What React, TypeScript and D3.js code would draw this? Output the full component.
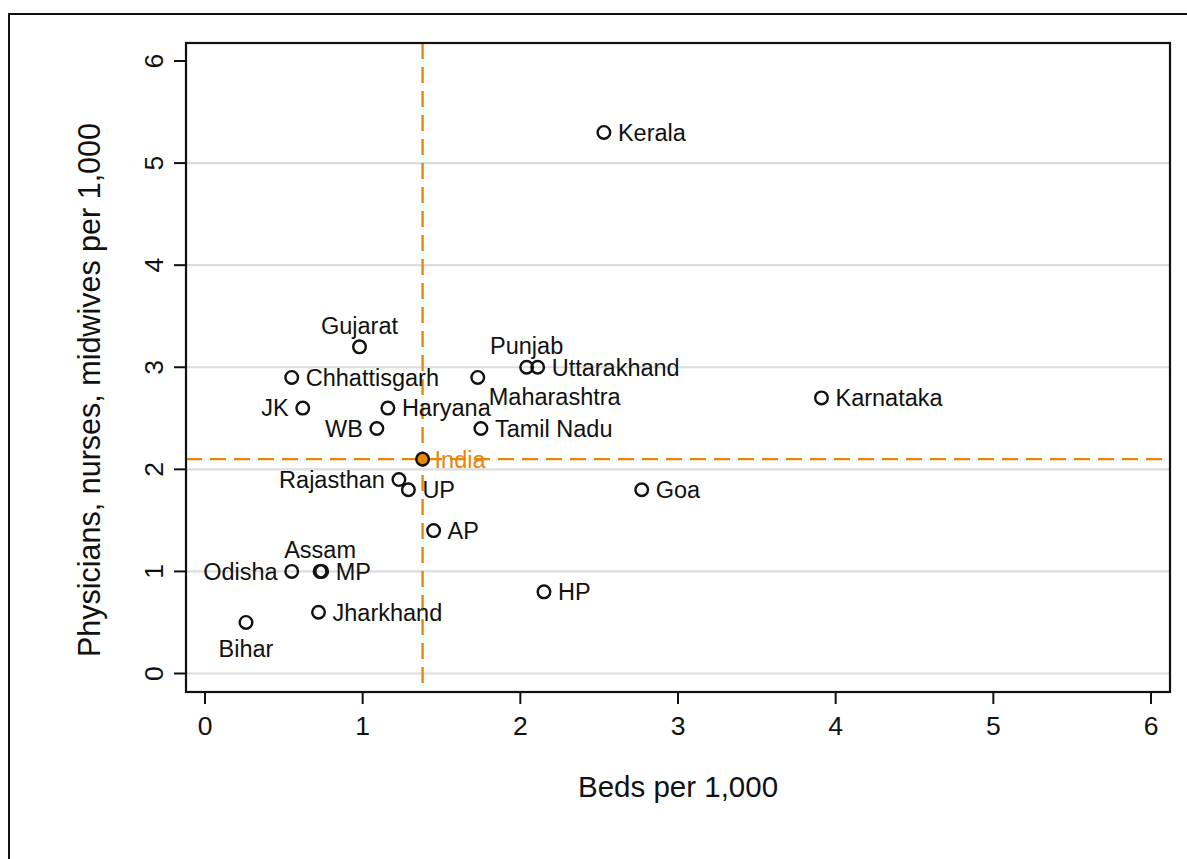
import React, { useEffect } from "react";
import * as d3 from "d3";

const states = [
  "Kerala", "Karnataka", "Gujarat", "Chhattisgarh", "JK", "Haryana", "WB",
  "Maharashtra", "Punjab", "Uttarakhand", "Tamil Nadu", "Rajasthan", "UP",
  "AP", "Goa", "HP", "Odisha", "Assam", "MP", "Jharkhand", "Bihar",
];
const beds = [
  2.53, 3.91, 0.98, 0.55, 0.62, 1.16, 1.09,
  1.73, 2.04, 2.11, 1.75, 1.23, 1.29,
  1.45, 2.77, 2.15, 0.55, 0.73, 0.74, 0.72, 0.26,
];
const workers = [
  5.3, 2.7, 3.2, 2.9, 2.6, 2.6, 2.4,
  2.9, 3.0, 3.0, 2.4, 1.9, 1.8,
  1.4, 1.8, 0.8, 1.0, 1.0, 1.0, 0.6, 0.5,
];
// label clock positions (Stata style)
const labelPos = [
  3, 3, 12, 3, 9, 3, 9,
  4, 12, 3, 3, 9, 3,
  3, 3, 3, 9, 12, 3, 3, 6,
];
const india = { name: "India", beds: 1.38, workers: 2.1 };
const xTicks = [0, 1, 2, 3, 4, 5, 6];
const yTicks = [0, 1, 2, 3, 4, 5, 6];
const gridValues = [0, 1, 2, 3, 4, 5];
const xTitle = "Beds per 1,000";
const yTitle = "Physicians, nurses, midwives per 1,000";

const W = 1187;
const H = 859;
const PL = 186, PR = 1170, PT = 43, PB = 692;
const ORANGE = "#e8860c";
const FONT = "'Liberation Sans', Arial, Helvetica, sans-serif";

export default function App() {
  useEffect(() => {
    document.body.style.margin = "0";
  }, []);

  const x = d3.scaleLinear().domain([0, 6]).range([205, 1151]);
  const y = d3.scaleLinear().domain([0, 6]).range([673.5, 61]);

  const labelFs = 23.5;
  const r = 6.3;

  const labelProps = (pos: number, px: number, py: number) => {
    switch (pos) {
      case 3:
        return { x: px + 14, y: py + 8.3, anchor: "start" };
      case 9:
        return { x: px - 14, y: py + 8.3, anchor: "end" };
      case 12:
        return { x: px, y: py - 13, anchor: "middle" };
      case 6:
        return { x: px, y: py + 35, anchor: "middle" };
      case 4:
        return { x: px + 11, y: py + 28, anchor: "start" };
      default:
        return { x: px + 14, y: py + 8.3, anchor: "start" };
    }
  };

  return (
    <svg width={W} height={H} style={{ display: "block", background: "#fff" }} fontFamily={FONT}>
      <rect x={0} y={0} width={W} height={H} fill="#fff" />
      {/* outer frame */}
      <rect x={9} y={14} width={W + 20} height={H + 20} fill="none" stroke="#111" strokeWidth={2} />
      {/* grid */}
      {gridValues.map((v) => (
        <line key={"g" + v} x1={PL} x2={PR} y1={y(v)} y2={y(v)} stroke="#dcdcdc" strokeWidth={2.2} />
      ))}
      {/* India reference lines */}
      <line x1={x(india.beds)} x2={x(india.beds)} y1={PT} y2={PB} stroke={ORANGE} strokeWidth={2.4} strokeDasharray="16 8" />
      <line x1={PL} x2={PR} y1={y(india.workers)} y2={y(india.workers)} stroke={ORANGE} strokeWidth={2.4} strokeDasharray="16 8" />
      {/* plot region */}
      <rect x={PL} y={PT} width={PR - PL} height={PB - PT} fill="none" stroke="#111" strokeWidth={2.2} />
      {/* x ticks */}
      {xTicks.map((t) => (
        <g key={"xt" + t}>
          <line x1={x(t)} x2={x(t)} y1={PB} y2={PB + 12} stroke="#111" strokeWidth={2} />
          <text x={x(t)} y={PB + 43} textAnchor="middle" fontSize={26.5} fill="#111">{t}</text>
        </g>
      ))}
      {/* y ticks */}
      {yTicks.map((t) => (
        <g key={"yt" + t}>
          <line x1={PL - 12} x2={PL} y1={y(t)} y2={y(t)} stroke="#111" strokeWidth={2} />
          <text transform={`translate(${PL - 23},${y(t)}) rotate(-90)`} textAnchor="middle" fontSize={26.5} fill="#111">{t}</text>
        </g>
      ))}
      {/* axis titles */}
      <text x={(PL + PR) / 2} y={797} textAnchor="middle" fontSize={29.5} fill="#111">{xTitle}</text>
      <text transform={`translate(100,390) rotate(-90)`} textAnchor="middle" fontSize={30.5} fill="#111">{yTitle}</text>
      {/* state points */}
      {states.map((s, i) => {
        const px = x(beds[i]);
        const py = y(workers[i]);
        const lp = labelProps(labelPos[i], px, py);
        return (
          <g key={s}>
            <circle cx={px} cy={py} r={r} fill="none" stroke="#111" strokeWidth={2.4} />
            <text x={lp.x} y={lp.y} textAnchor={lp.anchor as any} fontSize={labelFs} fill="#111">{s}</text>
          </g>
        );
      })}
      {/* India */}
      <circle cx={x(india.beds)} cy={y(india.workers)} r={r} fill={ORANGE} stroke="#111" strokeWidth={2.4} />
      <text x={x(india.beds) + 12} y={y(india.workers) + 9} fontSize={labelFs} fill={ORANGE}>{india.name}</text>
    </svg>
  );
}
